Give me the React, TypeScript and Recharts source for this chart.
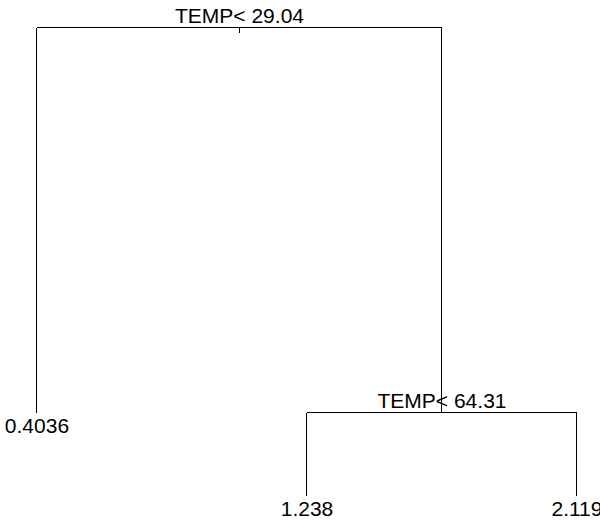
import React from 'react';
import { ComposedChart, ReferenceLine, Scatter, XAxis, YAxis } from 'recharts';

// rpart tree: TEMP splits, leaf means
const leafX = [1, 2, 3];
const leafDepth = [0.1774, 0, 0];
const leafLabels = ['0.4036', '1.238', '2.119'];

const splitX = [1.75, 2.5];
const splitDepth = [1, 0.1774];
const splitLabels = ['TEMP< 29.04', 'TEMP< 64.31'];

const STUB = 0.011;
const FONT = '"Liberation Sans", Arial, Helvetica, sans-serif';

// elbow branches: left child x -> split level -> right child x
const elbows = [
  [
    { x: leafX[0], y: leafDepth[0] },
    { x: leafX[0], y: splitDepth[0] },
    { x: splitX[1], y: splitDepth[0] },
    { x: splitX[1], y: splitDepth[1] },
  ],
  [
    { x: leafX[1], y: leafDepth[1] },
    { x: leafX[1], y: splitDepth[1] },
    { x: leafX[2], y: splitDepth[1] },
    { x: leafX[2], y: leafDepth[2] },
  ],
  [
    { x: splitX[0], y: splitDepth[0] },
    { x: splitX[0], y: splitDepth[0] - STUB },
  ],
];

const segments = elbows.flatMap((pts) => pts.slice(1).map((p, i) => [pts[i], p]));

const splitPoints = splitX.map((x, i) => ({ x, y: splitDepth[i], label: splitLabels[i] }));
const leafPoints = leafX.map((x, i) => ({ x, y: leafDepth[i], label: leafLabels[i] }));

const SplitText = (p: any) => (
  <text x={p.cx} y={p.cy - 5} textAnchor="middle" fontSize={21} fontFamily={FONT} fill="#000">
    {p.payload.label}
  </text>
);

const LeafText = (p: any) => (
  <text x={p.cx} y={p.cy + 20} textAnchor="middle" fontSize={21} fontFamily={FONT} fill="#000">
    {p.payload.label}
  </text>
);

export default function App() {
  return (
    <div style={{ position: 'absolute', left: 0, top: 0, background: '#fff' }}>
      <ComposedChart width={600} height={522} margin={{ top: 0, right: 0, bottom: 0, left: 0 }}>
        <XAxis type="number" dataKey="x" domain={[0.863, 3.0852]} allowDataOverflow hide />
        <YAxis type="number" dataKey="y" domain={[-0.0556, 1.0598]} allowDataOverflow hide />
        {segments.map((seg, i) => (
          <ReferenceLine
            key={i}
            segment={seg}
            stroke="#000"
            strokeWidth={1}
            shapeRendering="crispEdges"
            ifOverflow="visible"
          />
        ))}
        <Scatter data={splitPoints} dataKey="y" shape={SplitText} isAnimationActive={false} />
        <Scatter data={leafPoints} dataKey="y" shape={LeafText} isAnimationActive={false} />
      </ComposedChart>
    </div>
  );
}
